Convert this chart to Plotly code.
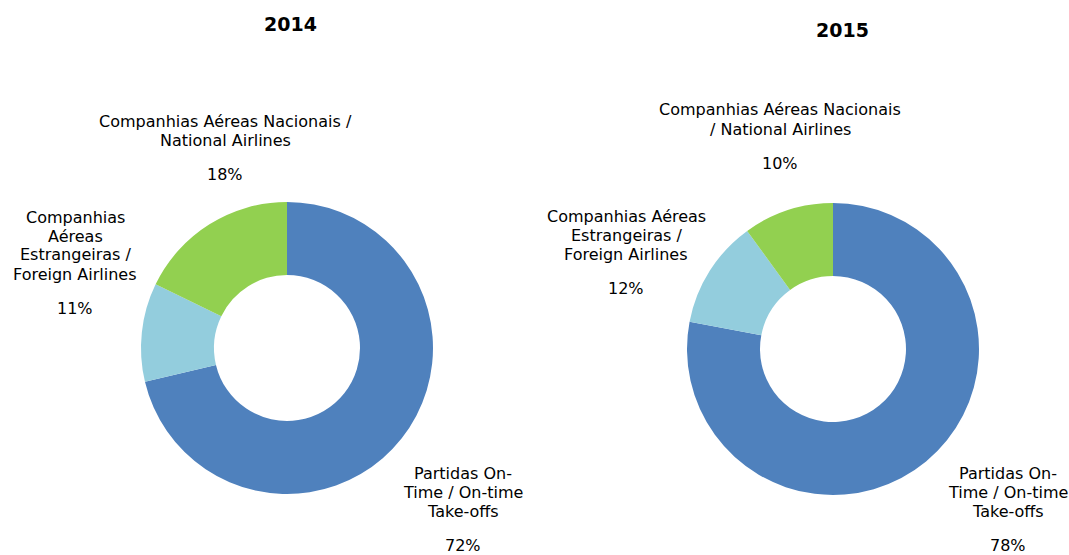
import plotly.graph_objects as go

W, H = 1069, 555

categories = ["Partidas On-Time / On-time Take-offs",
              "Companhias Aéreas Estrangeiras / Foreign Airlines",
              "Companhias Aéreas Nacionais / National Airlines"]
years = ["2014", "2015"]
values_2014 = [72, 11, 18]
values_2015 = [78, 12, 10]

# wrapped label lines as shown in each chart
labels_2014 = [["Partidas On-", "Time / On-time", "Take-offs"],
               ["Companhias", "Aéreas", "Estrangeiras /", "Foreign Airlines"],
               ["Companhias Aéreas Nacionais /", "National Airlines"]]
labels_2015 = [["Partidas On-", "Time / On-time", "Take-offs"],
               ["Companhias Aéreas", "Estrangeiras /", "Foreign Airlines"],
               ["Companhias Aéreas Nacionais", "/ National Airlines"]]

colors = ["#4F81BD", "#93CDDD", "#92D050"]
FONT = "DejaVu Sans"

# layout (pixel positions)
pie_centers = [(287, 348), (833, 349)]
R = 146
title_pos = [(290, 24), (842, 30)]
label_pos = [  # center x, first-line center y
    [(463, 473), (75, 217), (225, 121)],
    [(1008, 473), (626, 216), (780, 110)],
]
LINE = 19
PCT_GAP = 34
FS = 16

fig = go.Figure()
ann = []


def add_text(txt, px, py, size, bold=False):
    ann.append(dict(text=f"<b>{txt}</b>" if bold else txt, x=px / W, y=1 - py / H,
                    xref="paper", yref="paper", xanchor="center", yanchor="middle",
                    showarrow=False, font=dict(family=FONT, size=size, color="#000000")))


for i, (yr, vals, labs) in enumerate(zip(years, [values_2014, values_2015], [labels_2014, labels_2015])):
    cx, cy = pie_centers[i]
    fig.add_trace(go.Pie(
        labels=categories, values=vals, hole=0.5, sort=False,
        direction="clockwise", rotation=0,
        marker=dict(colors=colors, line=dict(width=0)),
        textinfo="none", hoverinfo="label+value", showlegend=False,
        domain=dict(x=[(cx - R) / W, (cx + R) / W],
                    y=[(H - cy - R) / H, (H - cy + R) / H]),
    ))
    tx, ty = title_pos[i]
    add_text(yr, tx, ty, 19, bold=True)
    for j, lines in enumerate(labs):
        lx, ly = label_pos[i][j]
        for k, line in enumerate(lines):
            add_text(line, lx, ly + k * LINE, FS)
        add_text(f"{vals[j]}%", lx, ly + (len(lines) - 1) * LINE + PCT_GAP, FS)

fig.update_layout(width=W, height=H, margin=dict(l=0, r=0, t=0, b=0),
                  paper_bgcolor="white", plot_bgcolor="white",
                  annotations=ann, font=dict(family=FONT))
fig.write_html("out.html", config={"displayModeBar": False},
               post_script="document.body.style.margin='0px';")
